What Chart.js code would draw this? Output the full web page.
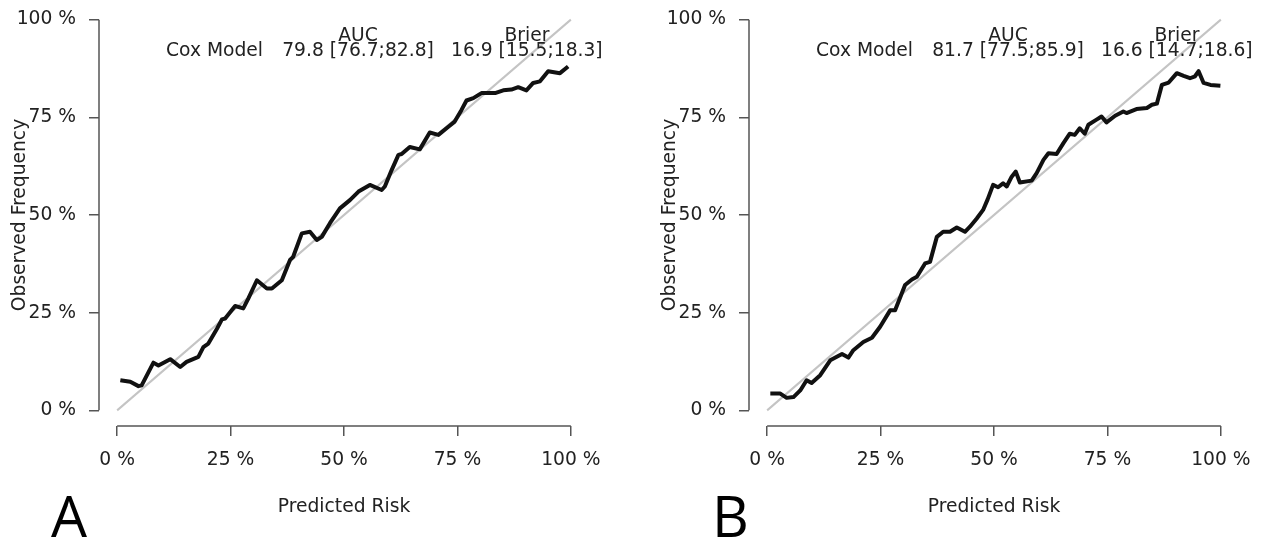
<!DOCTYPE html>
<html>
<head>
<meta charset="utf-8">
<script src="https://cdn.jsdelivr.net/npm/chart.js@4/dist/chart.umd.min.js"></script>
<style>
    html, body { margin: 0; padding: 0; background: #fff; }
    body { width: 1261px; height: 544px; position: relative; overflow: hidden;
           font-family: 'DejaVu Sans', sans-serif; color: #222; }
    .panel { position: absolute; top: 0; width: 611px; height: 544px; }
    .txt { position: absolute; font-size: 18.7px; line-height: 18px; white-space: nowrap; }
    .ctr { width: 200px; text-align: center; }
    .letter { position: absolute; font-family: 'Open Sans', sans-serif; font-size: 57px;
              line-height: 57px; color: #000; }
</style>
</head>
<body>

<div class="panel" style="left:0"><canvas id="chart-a"></canvas></div>
<div class="panel" style="left:650px"><canvas id="chart-b"></canvas></div>

<!-- legend texts, panel A -->
<div class="txt ctr" style="left:258px; top:26px">AUC</div>
<div class="txt ctr" style="left:427px; top:26px">Brier</div>
<div class="txt" style="left:166px; top:41px">Cox Model</div>
<div class="txt ctr" style="left:258px; top:41px">79.8 [76.7;82.8]</div>
<div class="txt" style="left:451px; top:41px">16.9 [15.5;18.3]</div>

<!-- legend texts, panel B -->
<div class="txt ctr" style="left:908px; top:26px">AUC</div>
<div class="txt ctr" style="left:1077px; top:26px">Brier</div>
<div class="txt" style="left:816px; top:41px">Cox Model</div>
<div class="txt ctr" style="left:908px; top:41px">81.7 [77.5;85.9]</div>
<div class="txt" style="left:1101px; top:41px">16.6 [14.7;18.6]</div>

<div class="letter" style="left:51px; top:487px">A</div>
<div class="letter" style="left:712px; top:487px">B</div>

<script>
/* ── data (percent) ─────────────────────────────────────────── */
const TICK_VALUES = [0, 25, 50, 75, 100];

const riskA = [0.7, 2.9, 4.7, 5.4, 8.0, 9.1, 11.7, 13.9, 15.3, 17.9, 19.0, 20.1, 22.0, 23.1, 23.8,
               26.0, 27.8, 28.9, 30.8, 33.0, 34.1, 36.3, 38.1, 38.8, 40.7, 42.5, 44.0, 45.1, 46.9,
               49.1, 51.3, 53.2, 55.7, 58.3, 59.0, 60.5, 62.0, 62.7, 64.5, 66.7, 68.9, 70.8, 73.0,
               74.4, 75.9, 77.0, 78.5, 80.3, 83.3, 85.1, 86.9, 88.4, 90.2, 91.7, 93.2, 95.0, 97.6, 99.4];
const obsA  = [7.7, 7.3, 6.2, 6.4, 12.2, 11.5, 13.1, 11.1, 12.4, 13.7, 16.2, 17.1, 20.9, 23.3, 23.5,
               26.7, 26.1, 28.6, 33.3, 31.2, 31.2, 33.3, 38.5, 39.3, 45.3, 45.7, 43.6, 44.4, 47.9,
               51.7, 53.8, 56.0, 57.7, 56.4, 57.3, 61.5, 65.4, 65.6, 67.4, 66.8, 71.1, 70.5, 72.6,
               73.9, 76.9, 79.3, 79.9, 81.2, 81.2, 81.9, 82.1, 82.7, 81.9, 83.8, 84.2, 86.8, 86.3, 88.0];

const riskB = [0.7, 2.9, 4.3, 5.8, 7.3, 8.7, 9.8, 11.7, 13.9, 16.5, 17.9, 19.0, 21.2, 23.1, 24.9,
               27.1, 28.2, 30.4, 31.9, 33.0, 34.8, 35.9, 37.4, 38.8, 40.3, 41.8, 43.6, 44.7, 46.2,
               47.6, 48.6, 49.8, 50.9, 52.0, 52.8, 53.9, 54.8, 55.7, 58.3, 59.4, 60.9, 62.0, 63.8,
               65.3, 66.7, 67.8, 68.9, 70.0, 70.8, 72.6, 73.7, 74.8, 76.7, 78.5, 79.2, 81.4, 83.7,
               84.8, 85.9, 87.0, 88.5, 90.3, 91.8, 93.2, 94.3, 95.1, 96.2, 97.7, 99.9];
const obsB  = [4.3, 4.3, 3.2, 3.4, 5.1, 7.7, 7.0, 9.0, 12.8, 14.4, 13.5, 15.4, 17.5, 18.6, 21.4,
               25.6, 25.6, 32.1, 33.5, 34.2, 37.6, 38.0, 44.4, 45.7, 45.7, 46.8, 45.7, 47.0, 49.1,
               51.3, 54.0, 57.7, 57.1, 58.1, 57.3, 59.8, 61.1, 58.3, 58.8, 60.7, 64.1, 65.8, 65.6,
               68.4, 70.8, 70.5, 72.2, 70.8, 73.1, 74.4, 75.2, 73.7, 75.4, 76.5, 76.1, 77.1, 77.4,
               78.2, 78.5, 83.3, 83.9, 86.3, 85.6, 85.0, 85.5, 86.8, 83.8, 83.3, 83.1];

const diagX = [0, 100];
const diagY = [0, 100];

/* ── R-style detached axis lines (0..100 only) ─────────────── */
const axisLines = {
    id: 'axisLines',
    afterDraw(chart) {
        const { ctx, chartArea, scales: { x, y } } = chart;
        ctx.save();
        ctx.strokeStyle = '#555';
        ctx.lineWidth = 1.5;
        ctx.beginPath();
        ctx.moveTo(x.getPixelForValue(0), chartArea.bottom);
        ctx.lineTo(x.getPixelForValue(100), chartArea.bottom);
        ctx.moveTo(chartArea.left, y.getPixelForValue(0));
        ctx.lineTo(chartArea.left, y.getPixelForValue(100));
        ctx.stroke();
        ctx.restore();
    },
};

const FONT = { family: "'DejaVu Sans', sans-serif", size: 18.7 };

function axisOpts(titleText, titlePad, fitFn) {
    return {
        type: 'linear',
        min: -4, max: 104,
        afterBuildTicks: (s) => { s.ticks = TICK_VALUES.map(v => ({ value: v })); },
        afterFit: fitFn,
        border: { display: false },
        grid: { drawOnChartArea: false, drawTicks: true, tickLength: 10, color: '#555', lineWidth: 1.5 },
        ticks: { font: FONT, color: '#222', padding: 13, autoSkip: false, maxRotation: 0,
                 callback: v => v + ' %' },
        title: { display: true, text: titleText, font: FONT, color: '#222', padding: titlePad },
    };
}

/* fixed box sizes so the plot area lands where the R figure has it */
function fitX(s) { s.height = 118; s.paddingLeft = 0; s.paddingRight = 0; }
function fitY(s) { s.width = 99; s.paddingTop = 0; s.paddingBottom = 0; }

function makePanel(id, risk, obs) {
    new Chart(document.getElementById(id), {
        type: 'line',
        data: {
            datasets: [
                {
                    data: risk.map((r, i) => ({ x: r, y: obs[i] })),
                    borderColor: '#111', borderWidth: 4, pointRadius: 0,
                    tension: 0, borderJoinStyle: 'round', order: 0,
                },
                {
                    data: diagX.map((d, i) => ({ x: d, y: diagY[i] })),
                    borderColor: '#c4c4c4', borderWidth: 2, pointRadius: 0, order: 1,
                },
            ],
        },
        options: {
            responsive: true,
            maintainAspectRatio: false,
            animation: false,
            layout: { padding: { top: 4, right: 22, left: 0, bottom: 0 } },
            plugins: { legend: { display: false }, tooltip: { enabled: false } },
            scales: {
                x: axisOpts('Predicted Risk', { top: 0, bottom: 26 }, fitX),
                y: axisOpts('Observed Frequency', { top: 9, bottom: 0 }, fitY),
            },
        },
        plugins: [axisLines],
    });
}

makePanel('chart-a', riskA, obsA);
makePanel('chart-b', riskB, obsB);
</script>
</body>
</html>
